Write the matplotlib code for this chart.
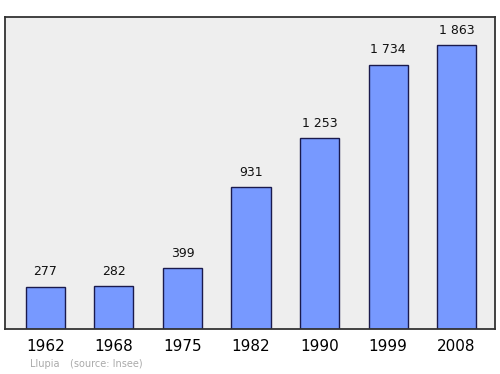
import numpy as np
import matplotlib
matplotlib.use("Agg")
import matplotlib.pyplot as plt

years = ["1962", "1968", "1975", "1982", "1990", "1999", "2008"]
population = [277, 282, 399, 931, 1253, 1734, 1863]
labels = ["277", "282", "399", "931", "1 253", "1 734", "1 863"]

fig = plt.figure(figsize=(5, 3.74), dpi=100)
ax = fig.add_axes([5 / 500, 1 - 329 / 374, 490 / 500, 312 / 374])
ax.set_facecolor("#eeeeee")

x = np.arange(len(years))
ax.bar(x, population, width=0.57, color="#7799ff", edgecolor="#1a1a4d", linewidth=1)

for xi, v, lab in zip(x, population, labels):
    ax.annotate(lab, (xi, v), xytext=(0, 6), textcoords="offset points",
                ha="center", va="bottom", fontsize=9, color="#111111")

ax.set_xlim(-0.59, 6.56)
ax.set_ylim(0, 2046)
ax.set_xticks(x)
ax.set_xticklabels(years, fontsize=11)
ax.tick_params(axis="x", length=0, pad=7)
ax.set_yticks([])
for s in ax.spines.values():
    s.set_color("#333333")
    s.set_linewidth(1.3)

fig.text(30 / 500, 1 - 364 / 374, "Llupia", fontsize=7, color="#aaaaaa", va="center")
fig.text(70 / 500, 1 - 364 / 374, "(source: Insee)", fontsize=7, color="#aaaaaa", va="center")

fig.savefig("out.png", dpi=100)
